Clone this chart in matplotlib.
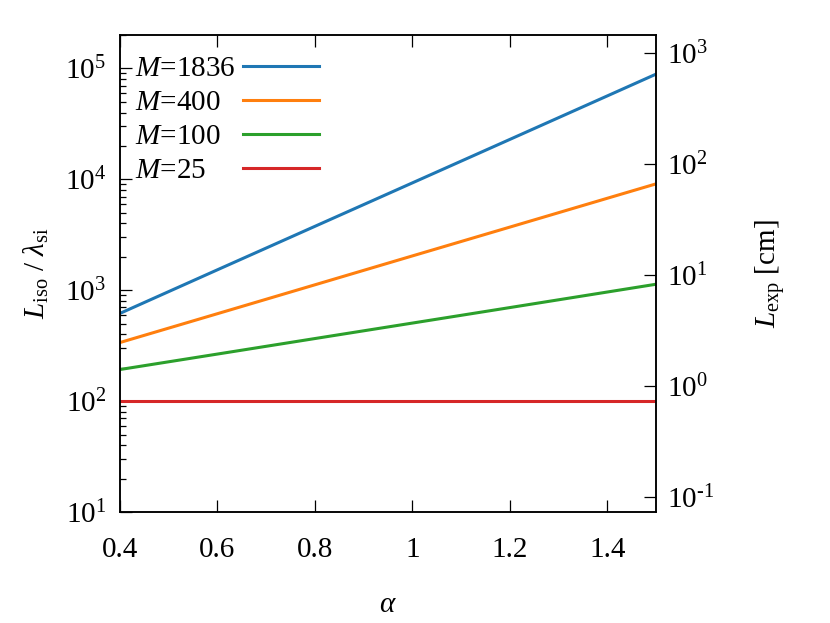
import numpy as np
import matplotlib
matplotlib.use("Agg")
import matplotlib.pyplot as plt
from matplotlib.ticker import LogLocator, NullLocator, FuncFormatter


plt.rcParams['font.family'] = 'serif'
plt.rcParams['font.serif'] = ['Liberation Serif', 'DejaVu Serif']
plt.rcParams['mathtext.fontset'] = 'custom'
plt.rcParams['mathtext.rm'] = 'Liberation Serif'
plt.rcParams['mathtext.it'] = 'Liberation Serif:italic'
plt.rcParams['mathtext.bf'] = 'Liberation Serif:bold'

FS = 21

# Values.
alpha = [0.4, 0.6, 0.8, 1.0, 1.2, 1.4, 1.5]
mass_labels = ['1836', '400', '100', '25']
l_m1836 = [619, 1530, 3770, 9290, 22900, 56500, 88800]
l_m400 = [338, 615, 1120, 2040, 3710, 6750, 9100]
l_m100 = [193, 266, 367, 506, 698, 964, 1133]
l_m25 = [100, 100, 100, 100, 100, 100, 100]
colors = ['#1f77b4', '#ff7f0e', '#2ca02c', '#d62728']

x_ticks = [0.4, 0.6, 0.8, 1.0, 1.2, 1.4]
x_tick_labels = ['0.4', '0.6', '0.8', '1', '1.2', '1.4']
y_lim = (10, 2.0e5)
# L_exp [cm] per unit of L_iso / lambda_si (from the two axis scales)
CM_PER_UNIT = 0.00733


def pow10(v, pos):
    # gnuplot style: plain hyphen in negative exponents
    e = int(round(np.log10(v)))
    if e < 0:
        return r'$\mathdefault{10^{\text{-}%d}}$' % (-e)
    return r'$\mathdefault{10^{%d}}$' % e


def main():
    fig = plt.figure(figsize=(8.3, 6.23), dpi=100)
    ax = fig.add_axes([0.1446, 0.178, 0.6458, 0.7658])

    series = [l_m1836, l_m400, l_m100, l_m25]
    for vals, col, lab in zip(series, colors, mass_labels):
        ax.plot(alpha, vals, color=col, lw=2.2, label=f'$M$={lab}')

    ax.set_yscale('log')
    ax.set_xlim(0.4, 1.5)
    ax.set_ylim(*y_lim)
    ax.set_xticks(x_ticks)
    ax.set_xticklabels(x_tick_labels)
    ax.yaxis.set_major_locator(LogLocator(base=10, numticks=10))
    ax.yaxis.set_minor_locator(LogLocator(base=10, subs=np.arange(2, 10), numticks=20))
    ax.yaxis.set_major_formatter(FuncFormatter(pow10))
    ax.xaxis.set_minor_locator(NullLocator())

    ax.tick_params(axis='both', which='both', direction='in', top=True, right=True,
                   labelsize=FS, width=0.9)
    ax.tick_params(axis='both', which='major', length=8.6)
    ax.tick_params(axis='y', which='minor', length=4.3)
    ax.tick_params(axis='x', pad=18)
    ax.tick_params(axis='y', pad=10)
    for sp in ax.spines.values():
        sp.set_linewidth(1.1)

    ax2 = ax.twinx()
    ax2.set_yscale('log')
    ax2.set_ylim(y_lim[0] * CM_PER_UNIT, y_lim[1] * CM_PER_UNIT)
    ax2.yaxis.set_major_locator(LogLocator(base=10, numticks=10))
    ax2.yaxis.set_minor_locator(NullLocator())
    ax2.yaxis.set_major_formatter(FuncFormatter(pow10))
    ax2.tick_params(axis='y', which='major', direction='in', length=8.6, width=0.9,
                    labelsize=FS, pad=8)
    for sp in ax2.spines.values():
        sp.set_linewidth(1.1)

    ax.set_xlabel(r'$\alpha$', fontsize=FS, labelpad=21)
    ax.set_ylabel(r'$L_{\rm iso}$ / $\lambda_{\rm si}$', fontsize=FS, labelpad=10)
    ax2.set_ylabel(r'$L_{\rm exp}$ [cm]', fontsize=FS, labelpad=28)

    # gnuplot-like key: text first, sample lines aligned on the right
    leg = ax.legend(loc='upper left', bbox_to_anchor=(0.028, 0.957), markerfirst=False,
                    frameon=False, fontsize=FS, borderpad=0, borderaxespad=0,
                    handlelength=2.6, handletextpad=0.25, labelspacing=0.26)
    fig.canvas.draw()
    renderer = fig.canvas.get_renderer()
    rows = leg._legend_handle_box.get_children()[0].get_children()
    widths = [r.get_children()[0].get_window_extent(renderer).width for r in rows]
    for r, w in zip(rows, widths):
        r.sep = r.sep + (max(widths) - w) * 72.0 / fig.dpi

    fig.savefig('out.png', dpi=100)


if __name__ == "__main__":
    main()
